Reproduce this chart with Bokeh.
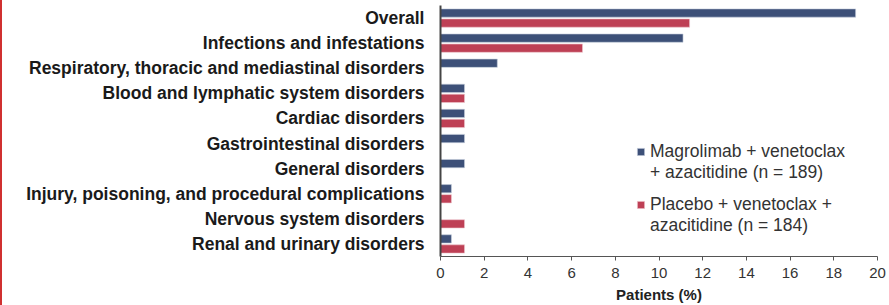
from bokeh.plotting import figure
from bokeh.models import ColumnDataSource, FactorRange, Range1d, FixedTicker, Legend, LegendItem
from bokeh.transform import dodge
from bokeh.embed import file_html
from bokeh.resources import INLINE

categories = [
    "Overall",
    "Infections and infestations",
    "Respiratory, thoracic and mediastinal disorders",
    "Blood and lymphatic system disorders",
    "Cardiac disorders",
    "Gastrointestinal disorders",
    "General disorders",
    "Injury, poisoning, and procedural complications",
    "Nervous system disorders",
    "Renal and urinary disorders",
]
magrolimab = [19.0, 11.1, 2.6, 1.1, 1.1, 1.1, 1.1, 0.5, 0.0, 0.5]
placebo = [11.4, 6.5, 0.0, 1.1, 1.1, 0.0, 0.0, 0.5, 1.1, 1.1]
x_ticks = [0, 2, 4, 6, 8, 10, 12, 14, 16, 18, 20]
series_labels = [
    ["Magrolimab + venetoclax", "+ azacitidine (n = 189)"],
    ["Placebo + venetoclax +", "azacitidine (n = 184)"],
]

BLUE = "#3D5078"
RED = "#BE4055"

src = ColumnDataSource(dict(cat=categories, magro=magrolimab, plac=placebo))

p = figure(
    width=887, height=305,
    y_range=FactorRange(factors=list(reversed(categories)), range_padding=0),
    x_range=Range1d(0, 20),
    output_backend="svg", toolbar_location=None,
    min_border_left=438, min_border_right=12, min_border_top=5, min_border_bottom=48,
)
p.styles = {"border-left": "2px solid #D03030"}

r_blue = p.hbar(y=dodge("cat", 0.2, range=p.y_range), right="magro", left=0, height=0.33,
                source=src, fill_color=BLUE, line_color="#c8d0de", line_width=0.6)
r_red = p.hbar(y=dodge("cat", -0.2, range=p.y_range), right="plac", left=0, height=0.33,
               source=src, fill_color=RED, line_color="#efc8ce", line_width=0.6)

dummy_src = ColumnDataSource(dict(y=[], right=[]))
r_dummy = p.hbar(y="y", right="right", height=0.3, source=dummy_src,
                 fill_alpha=0, line_alpha=0)

p.xgrid.visible = False
p.ygrid.visible = False
p.outline_line_color = None
p.background_fill_color = "white"

# x axis
p.xaxis.ticker = FixedTicker(ticks=x_ticks)
p.xaxis.minor_tick_line_color = None
p.xaxis.major_tick_in = 0
p.xaxis.major_tick_out = 4
p.xaxis.axis_line_color = "#555555"
p.xaxis.major_tick_line_color = "#555555"
p.xaxis.major_label_text_font = "Liberation Sans"
p.xaxis.major_label_text_font_size = "15px"
p.xaxis.major_label_text_color = "#333333"
p.xaxis.major_label_standoff = 7
p.xaxis.axis_label = "Patients (%)"
p.xaxis.axis_label_text_font = "Liberation Sans"
p.xaxis.axis_label_text_font_style = "bold"
p.xaxis.axis_label_text_font_size = "15px"
p.xaxis.axis_label_text_color = "#222222"
p.xaxis.axis_label_standoff = 5

# y axis
p.yaxis.major_tick_line_color = None
p.yaxis.minor_tick_line_color = None
p.yaxis.major_tick_out = 0
p.yaxis.major_tick_in = 0
p.yaxis.axis_line_color = "#444444"
p.yaxis.axis_line_width = 2
p.yaxis.major_label_text_font = "Liberation Sans"
p.yaxis.major_label_text_font_style = "bold"
p.yaxis.major_label_text_font_size = "17.5px"
p.yaxis.major_label_text_color = "#1a1a1a"
p.yaxis.major_label_standoff = 16

def make_legend(items, loc):
    return Legend(items=items, location=loc, padding=0, margin=0, spacing=0,
                  glyph_width=9, glyph_height=9, label_standoff=5, label_height=20,
                  label_text_font="Liberation Sans", label_text_font_size="17.5px",
                  label_text_color="#333333", background_fill_alpha=0,
                  border_line_alpha=0, click_policy="none")

leg1 = make_legend([LegendItem(label=series_labels[0][0], renderers=[r_blue]),
                    LegendItem(label=series_labels[0][1], renderers=[r_dummy])], (196, 73))
leg2 = make_legend([LegendItem(label=series_labels[1][0], renderers=[r_red]),
                    LegendItem(label=series_labels[1][1], renderers=[r_dummy])], (196, 20))
p.add_layout(leg1, "center")
p.add_layout(leg2, "center")

open("out.html", "w").write(file_html(p, INLINE))
